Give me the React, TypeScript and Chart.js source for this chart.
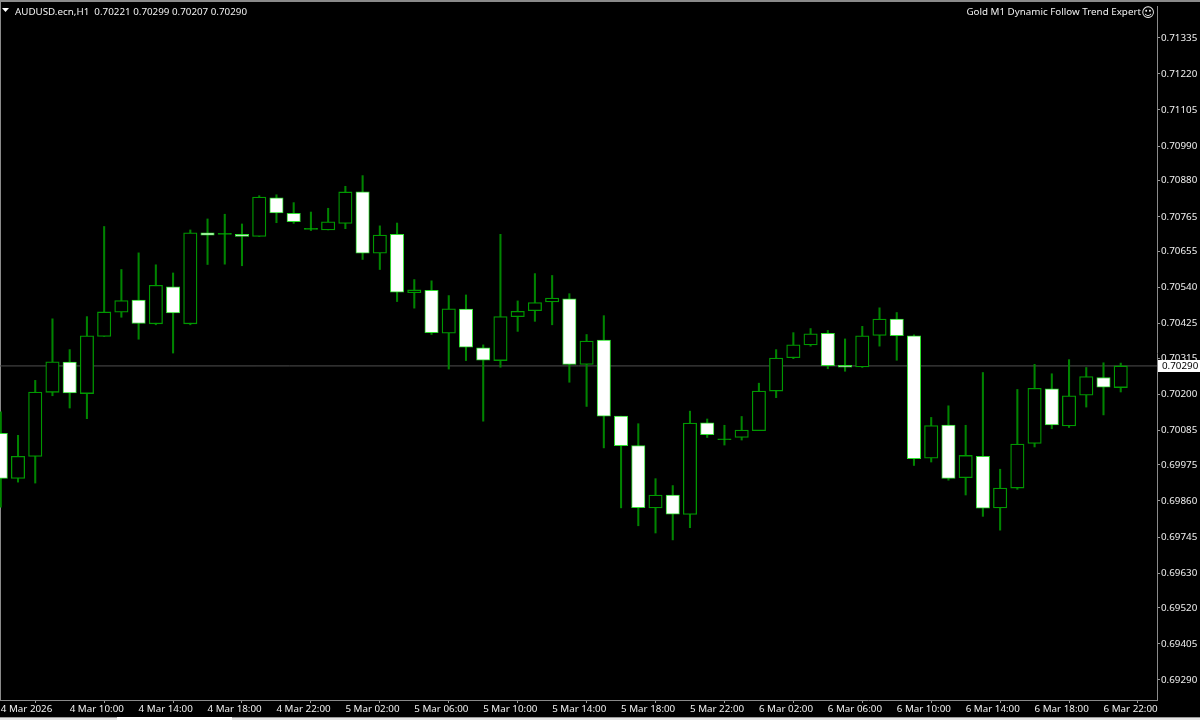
import React, { useEffect, useRef } from "react";
import { Chart, registerables } from "chart.js";

Chart.register(...registerables);

const dayHours: [string, number, number][] = [["4 Mar", 6, 23], ["5 Mar", 0, 23], ["6 Mar", 0, 23], ["7 Mar", 0, 1]];
const timeLabels: string[] = [];
dayHours.forEach(([d, a, b]) => {
  for (let h = a; h <= b; h++) timeLabels.push(`${d} ${String(h).padStart(2, "0")}:00`);
});
timeLabels[0] = "4 Mar 2026";

const openPts = [70075,69932,70002,70206,70302,70202,70384,70461,70500,70424,70542,70424,70714,70709,70709,70702,70825,70776,70725,70723,70744,70844,70649,70709,70523,70531,70394,70471,70348,70307,70447,70466,70494,70504,70295,70372,70130,70036,69838,69879,69817,70109,70055,70062,70084,70210,70316,70357,70394,70292,70287,70387,70439,70386,69996,70102,69934,70002,69838,69901,70043,70217,70099,70197,70253,70221];
const closePts = [69932,70002,70207,70303,70204,70386,70462,70498,70425,70547,70459,70714,70706,70712,70702,70828,70777,70749,70728,70749,70844,70649,70707,70525,70532,70396,70472,70350,70308,70447,70464,70492,70506,70295,70369,70130,70036,69839,69879,69818,70108,70071,70058,70086,70210,70315,70357,70392,70291,70286,70386,70439,70386,69995,70100,69932,70005,69837,69901,70041,70219,70102,70195,70256,70222,70290];
const highPts = [70144,70069,70244,70440,70342,70447,70734,70597,70650,70612,70586,70723,70758,70773,70742,70832,70835,70810,70780,70792,70862,70896,70736,70745,70565,70561,70514,70516,70357,70709,70497,70584,70578,70520,70390,70450,70130,70106,69931,69909,70146,70121,70101,70129,70235,70342,70396,70409,70403,70376,70416,70475,70460,70389,70126,70163,70101,70269,69961,70215,70295,70265,70310,70285,70300,70299];
const lowPts = [69840,69920,69917,70195,70156,70122,70384,70445,70375,70421,70331,70421,70613,70614,70609,70702,70746,70744,70721,70723,70727,70629,70597,70495,70474,70390,70280,70307,70114,70286,70400,70432,70421,70238,70161,70029,69838,69781,69758,69736,69775,70062,70038,70054,70084,70189,70313,70353,70281,70273,70285,70353,70308,69973,69984,69926,69879,69811,69767,69897,70032,70090,70094,70159,70134,70207];
const priceTicks = [0.71335,0.7122,0.71105,0.7099,0.7088,0.70765,0.70655,0.7054,0.70425,0.70315,0.702,0.70085,0.69975,0.6986,0.69745,0.6963,0.6952,0.69405,0.6929];
const timeTicks = [0,4,8,12,16,20,24,28,32,36,40,44,48,52,56,60,64];
const currentPrice = 0.7029;
const symbolText = "AUDUSD.ecn,H1  0.70221 0.70299 0.70207 0.70290";
const expertText = "Gold M1 Dynamic Follow Trend Expert";

const FAMILY = '"Noto Sans", Tahoma, sans-serif';
const FONT = `9.8px ${FAMILY}`;
const XMIN = -0.045;
const XMAX = 67.105;
const px = (v: number) => v / 100000;

const chromePlugin = {
  id: "chrome",
  beforeDraw(chart: any) {
    const c = chart.ctx;
    c.save();
    c.fillStyle = "#000";
    c.fillRect(0, 0, 1200, 720);
    c.fillStyle = "#8a8a8a";
    c.fillRect(0, 0, 1200, 2);
    c.fillRect(0, 0, 1, 700);
    c.fillStyle = "#9a9a9a";
    c.fillRect(0, 717, 1200, 1);
    c.fillStyle = "#e4e4e4";
    c.fillRect(0, 718, 1200, 2);
    c.fillStyle = "#fff";
    c.fillRect(117, 717, 115, 3);
    c.restore();
  },
  afterDraw(chart: any) {
    const c = chart.ctx;
    const y = chart.scales.y.getPixelForValue(currentPrice);
    c.save();
    c.fillStyle = "#fff";
    c.fillRect(1158, Math.round(y) - 6, 42, 12);
    c.fillStyle = "#000";
    c.font = FONT;
    c.textBaseline = "middle";
    c.textAlign = "left";
    c.fillText(currentPrice.toFixed(5), 1162, y + 0.5);
    c.fillStyle = "#f0f0f0";
    c.textBaseline = "alphabetic";
    c.fillText(symbolText, 15, 15);
    c.textAlign = "right";
    c.fillText(expertText, 1141, 15);
    c.font = '13px "DejaVu Sans"';
    c.textAlign = "center";
    c.fillText("\u263A", 1148, 17);
    c.fillStyle = "#fff";
    c.beginPath();
    c.moveTo(2, 8);
    c.lineTo(9, 8);
    c.lineTo(5.5, 12);
    c.closePath();
    c.fill();
    c.restore();
  },
};

export default function App() {
  const ref = useRef<HTMLCanvasElement>(null);
  useEffect(() => {
    const bull = (i: number) => closePts[i] >= openPts[i];
    const thin = (i: number) => Math.abs(closePts[i] - openPts[i]) <= 4;
    const chart = new Chart(ref.current as HTMLCanvasElement, {
      type: "bar",
      data: {
        datasets: [
          {
            type: "bar",
            label: "Body",
            order: 1,
            grouped: false,
            data: openPts.map((o, i) => ({ x: i, y: [px(o), px(closePts[i])] })),
            barThickness: 13.4,
            borderSkipped: false,
            borderWidth: (ctx: any) => (bull(ctx.dataIndex) ? 1.3 : 1),
            borderColor: (ctx: any) => (bull(ctx.dataIndex) ? "#009800" : "#2ee02e"),
            backgroundColor: (ctx: any) =>
              bull(ctx.dataIndex) ? (thin(ctx.dataIndex) ? "#00b000" : "#000000") : "#ffffff",
          },
          {
            type: "bar",
            label: "Wick",
            order: 2,
            grouped: false,
            data: lowPts.map((l, i) => ({ x: i, y: [px(l), px(highPts[i])] })),
            barThickness: 1.4,
            borderWidth: 0,
            backgroundColor: "#008400",
          },
          {
            type: "line",
            label: "Price",
            order: 3,
            data: [XMIN, XMAX].map((x) => ({ x, y: currentPrice })),
            borderColor: "#505050",
            borderWidth: 1,
            pointRadius: 0,
          },
        ] as any,
      },
      options: {
        animation: false,
        responsive: false,
        devicePixelRatio: 1,
        layout: { padding: 0 },
        plugins: { legend: { display: false }, tooltip: { enabled: false }, title: { display: false } },
        scales: {
          x: {
            type: "linear",
            offset: false,
            min: XMIN,
            max: XMAX,
            afterBuildTicks: (s: any) => {
              s.ticks = timeTicks.map((value) => ({ value }));
            },
            afterFit: (s: any) => {
              s.height = 20;
            },
            grid: { display: true, drawOnChartArea: false, drawTicks: true, tickLength: 3, tickColor: "#9a9a9a" },
            border: { color: "#8a8a8a", width: 1 },
            ticks: {
              autoSkip: false,
              maxRotation: 0,
              align: "start",
              padding: 0,
              color: "#f0f0f0",
              font: { family: FAMILY, size: 9.8 },
              callback: (v: any) => timeLabels[v],
            },
          } as any,
          y: {
            position: "right",
            min: 0.692262,
            max: 0.714333,
            afterBuildTicks: (s: any) => {
              s.ticks = priceTicks.map((value) => ({ value }));
            },
            afterFit: (s: any) => {
              s.width = 43;
            },
            grid: { display: true, drawOnChartArea: false, tickLength: 3, tickColor: "#9a9a9a" },
            border: { color: "#8a8a8a", width: 1 },
            ticks: {
              padding: 1,
              color: "#f0f0f0",
              font: { family: FAMILY, size: 9.8 },
              callback: (v: any) => Number(v).toFixed(5),
            },
          } as any,
        },
      },
      plugins: [chromePlugin],
    } as any);
    return () => chart.destroy();
  }, []);
  return (
    <div style={{ position: "fixed", left: 0, top: 0, width: 1200, height: 720, background: "#000" }}>
      <canvas ref={ref} width={1200} height={720} style={{ display: "block" }} />
    </div>
  );
}
